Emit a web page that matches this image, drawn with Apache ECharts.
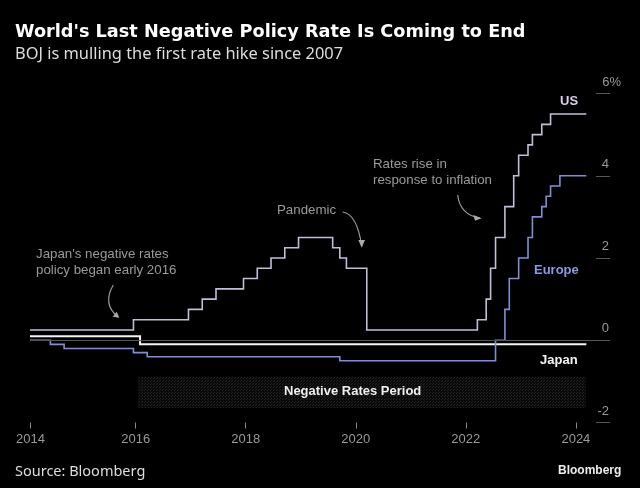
<!DOCTYPE html>
<html>
<head>
<meta charset="utf-8">
<style>html,body{margin:0;padding:0;background:#000}#chart{width:640px;height:488px}</style>
<script src="https://cdn.jsdelivr.net/npm/echarts@6/dist/echarts.min.js"></script>
</head>
<body>
<div id="chart"></div>
<script>
// dates are decimal years
const usDates = [2014.08, 2015.96, 2016.96, 2017.21, 2017.46, 2017.96, 2018.21, 2018.46, 2018.71, 2018.96, 2019.58, 2019.71, 2019.83, 2020.2, 2022.21, 2022.37, 2022.45, 2022.54, 2022.71, 2022.87, 2022.96, 2023.13, 2023.21, 2023.38, 2023.54, 2024.19];
const usRates = [0.25, 0.5, 0.75, 1, 1.25, 1.5, 1.75, 2, 2.25, 2.5, 2.25, 2, 1.75, 0.25, 0.5, 1, 1.75, 2.5, 3.25, 4, 4.5, 4.75, 5, 5.25, 5.5, 5.5];
const europeDates = [2014.08, 2014.45, 2014.7, 2015.96, 2016.21, 2019.71, 2022.54, 2022.71, 2022.79, 2022.96, 2023.13, 2023.21, 2023.38, 2023.46, 2023.54, 2023.71, 2024.19];
const europeRates = [0, -0.1, -0.2, -0.3, -0.4, -0.5, 0, 0.75, 1.5, 2, 2.5, 3, 3.25, 3.5, 3.75, 4, 4];
const japanDates = [2014.08, 2016.08, 2024.19];
const japanRates = [0.1, -0.1, -0.1];
const yearTicks = [2014.09, 2016, 2018, 2020, 2022, 2024];
const rateTicks = [-2, 0, 2, 4, 6];
const negativePeriod = [2016.05, 2024.18];
const negativeBand = [-0.88, -1.65];

const zip = (xs, ys) => xs.map((x, i) => [x, ys[i]]);

// dotted fill of the negative rates band
const dots = document.createElement('canvas');
dots.width = 3;
dots.height = 3;
const dotsCtx = dots.getContext('2d');
dotsCtx.fillStyle = '#0a0a0a';
dotsCtx.fillRect(0, 0, 3, 3);
dotsCtx.fillStyle = '#242424';
dotsCtx.fillRect(0, 0, 1, 1);
dotsCtx.fillRect(1, 2, 1, 1);

const stepLine = (name, xs, ys, color, width, extra) => ({
    name,
    type: 'line',
    step: 'end',
    data: zip(xs, ys),
    showSymbol: false,
    silent: true,
    lineStyle: { color, width, join: 'miter' },
    ...extra,
});

const note = (x, y, text) => ({
    type: 'text', x, y, z: 20,
    style: { text, fill: '#9a9a9a', font: '13.3px "Liberation Sans"', lineHeight: 16.5 },
});
const lineLabel = (x, y, text, fill) => ({
    type: 'text', x, y, z: 20,
    style: { text, fill, font: 'bold 13px "Liberation Sans"' },
});
const arrowLine = (x1, y1, cpx1, cpy1, x2, y2) => ({
    type: 'bezierCurve', z: 20,
    shape: { x1, y1, cpx1, cpy1, x2, y2 },
    style: { stroke: '#999', lineWidth: 1.2, fill: 'none' },
});
const arrowHead = points => ({
    type: 'polygon', z: 20,
    shape: { points },
    style: { fill: '#aaa' },
});
const plainText = (x, y, text, fill, font) => ({
    type: 'text', x, y, z: 20,
    style: { text, fill, font },
});

const chart = echarts.init(document.getElementById('chart'), null, { renderer: 'canvas' });
chart.setOption({
    backgroundColor: '#000',
    animation: false,
    grid: { left: 30, right: 30, top: 93.5, bottom: 65.5 },
    xAxis: {
        type: 'value',
        min: 2014.08,
        max: 2024.62,
        splitLine: { show: false },
        axisLine: { show: false, onZero: false },
        axisTick: { show: true, customValues: yearTicks, length: 6, lineStyle: { color: '#888' } },
        axisLabel: {
            customValues: yearTicks,
            formatter: v => String(Math.floor(v)),
            color: '#999',
            fontFamily: 'Liberation Sans',
            fontSize: 13,
            margin: 10,
        },
    },
    yAxis: {
        type: 'value',
        position: 'right',
        min: -2,
        max: 6,
        splitLine: { show: false },
        axisLine: { show: false },
        axisTick: { show: true, inside: true, customValues: rateTicks, length: 14, lineStyle: { color: '#555' } },
        axisLabel: {
            customValues: rateTicks,
            inside: true,
            margin: 1,
            align: 'right',
            verticalAlign: 'bottom',
            padding: [0, 0, 5, 0],
            formatter: v => v === 6 ? '{pct|6%}' : String(v),
            rich: { pct: { color: '#999', fontFamily: 'Liberation Sans', fontSize: 13, padding: [0, -12, 0, 0] } },
            color: '#999',
            fontFamily: 'Liberation Sans',
            fontSize: 13,
        },
    },
    series: [
        stepLine('Japan', japanDates, japanRates, '#f4f4f4', 2, {
            z: 3,
            markLine: {
                silent: true,
                symbol: 'none',
                label: { show: false },
                lineStyle: { color: '#555', width: 1, type: 'solid' },
                data: [{ yAxis: 0 }],
            },
            markArea: {
                silent: true,
                itemStyle: { color: { image: dots, repeat: 'repeat' } },
                data: [[
                    { xAxis: negativePeriod[0], yAxis: negativeBand[0] },
                    { xAxis: negativePeriod[1], yAxis: negativeBand[1] },
                ]],
            },
        }),
        stepLine('Europe', europeDates, europeRates, '#7f8fd6', 1.6, { z: 4 }),
        stepLine('US', usDates, usRates, '#c4bdd6', 1.6, { z: 5 }),
    ],
    graphic: [
        plainText(15, 23, "World's Last Negative Policy Rate Is Coming to End", '#fff', 'bold 17.7px "DejaVu Sans"'),
        plainText(15, 46, 'BOJ is mulling the first rate hike since 2007', '#ddd', '16.4px "Noto Sans"'),
        plainText(15, 464, 'Source: Bloomberg', '#ddd', '14.5px "Noto Sans"'),
        plainText(558, 465, 'Bloomberg', '#eee', 'bold 12px "Liberation Sans"'),
        plainText(284, 385, 'Negative Rates Period', '#f0f0f0', 'bold 13px "Liberation Sans"'),
        note(36, 246, "Japan's negative rates\npolicy began early 2016"),
        note(277, 202, 'Pandemic'),
        note(373, 156, 'Rates rise in\nresponse to inflation'),
        lineLabel(560, 95, 'US', '#d9cdf0'),
        lineLabel(534, 264, 'Europe', '#8a9ae0'),
        lineLabel(540, 354, 'Japan', '#f4f4f4'),
        arrowLine(113.3, 285, 102, 304, 118, 317),
        arrowHead([[112.7, 316.7], [119.3, 317.7], [116.7, 311.7]]),
        arrowLine(342.7, 212, 357, 214, 361.7, 246),
        arrowHead([[358.3, 240], [361.7, 247.7], [365, 240]]),
        arrowLine(457.7, 195, 460, 215, 480, 218),
        arrowHead([[473.3, 215], [481.7, 218.3], [475, 220.7]]),
    ],
});
</script>
</body>
</html>
